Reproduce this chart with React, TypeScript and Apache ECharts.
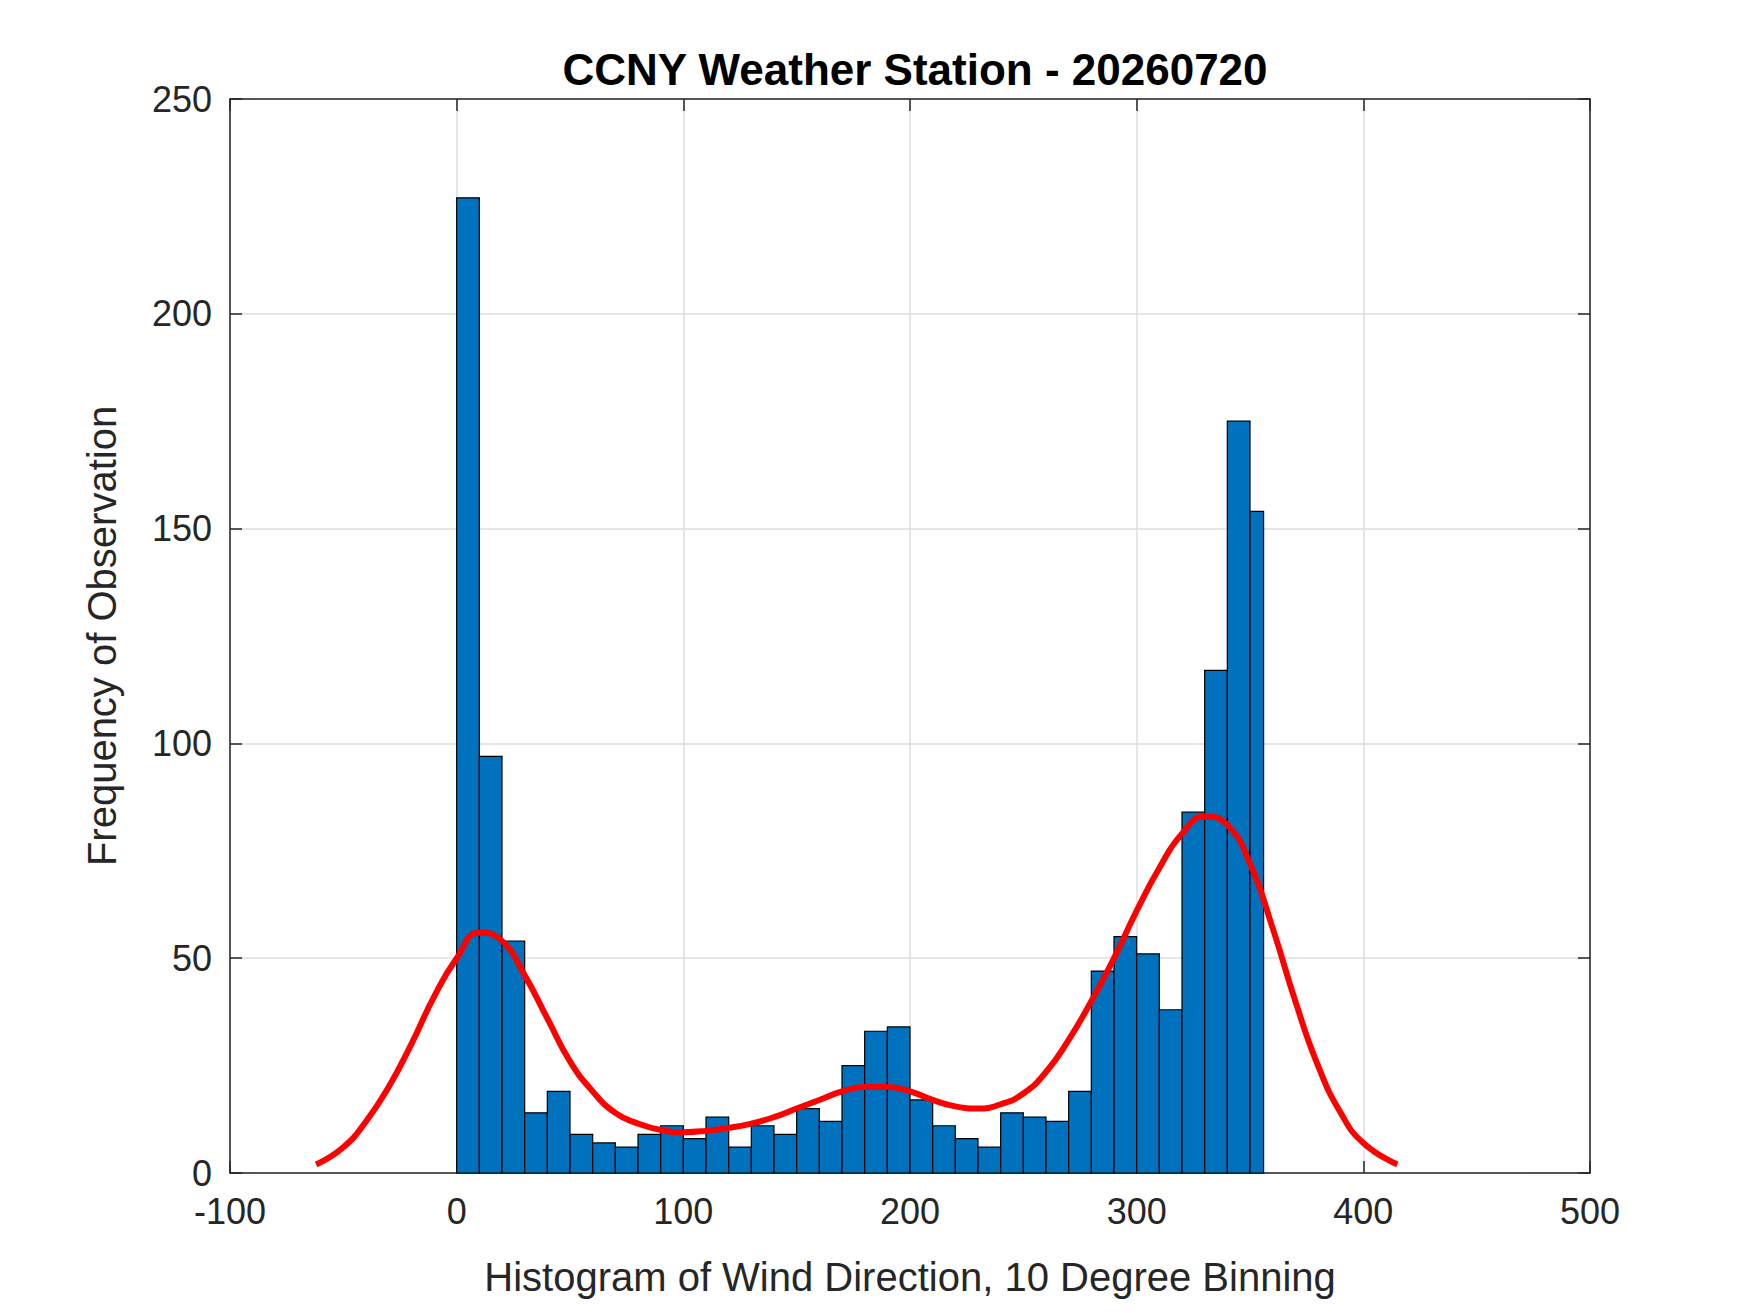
import React, { useEffect, useRef } from 'react';
import * as echarts from 'echarts';

const binStarts = [0, 10, 20, 30, 40, 50, 60, 70, 80, 90, 100, 110, 120, 130, 140, 150, 160, 170, 180, 190, 200, 210, 220, 230, 240, 250, 260, 270, 280, 290, 300, 310, 320, 330, 340, 350];
const binCounts = [227, 97, 54, 14, 19, 9, 7, 6, 9, 11, 8, 13, 6, 11, 9, 15, 12, 25, 33, 34, 17, 11, 8, 6, 14, 13, 12, 19, 47, 55, 51, 38, 84, 117, 175, 154];
const binWidth = 10;
const lastBinEnd = 356;

const curveX = [-62, -50, -40, -30, -20, -10, 0, 10, 20, 30, 40, 50, 60, 70, 80, 90, 100, 110, 120, 130, 140, 150, 160, 170, 180, 190, 200, 210, 220, 230, 240, 250, 260, 270, 280, 290, 300, 310, 320, 330, 340, 350, 360, 370, 380, 390, 400, 415];
const curveY = [2, 6, 12, 20, 30, 41, 50, 56, 54, 46, 36, 26, 19, 14, 11.5, 10, 9.5, 9.8, 10.5, 11.5, 13, 15, 17, 19, 20, 20, 19, 17, 15.5, 15, 16, 18.5, 23.5, 31, 40, 50, 61, 71, 79, 83, 81, 72, 57, 40, 25, 14, 7, 2];

export default function App() {
  const ref = useRef<HTMLDivElement>(null);
  useEffect(() => {
    document.body.style.margin = '0';
    const chart = echarts.init(ref.current!, null, { renderer: 'svg' });
    const font = 'Liberation Sans, Arial, sans-serif';
    const dark = '#262626';
    const tick = { show: true, inside: true, length: 12, lineStyle: { color: dark, width: 1.5 } };
    const line = { show: true, onZero: false, lineStyle: { color: dark, width: 1.5 } };
    const split = { show: true, lineStyle: { color: '#dedede', width: 1.5 } };
    chart.setOption({
      animation: false,
      backgroundColor: '#fff',
      title: {
        text: 'CCNY Weather Station - 20260720',
        left: 910, top: 42, textAlign: 'center',
        textStyle: { fontFamily: font, fontSize: 44, fontWeight: 'bold', color: '#000' },
      },
      grid: { left: 230, right: 160, top: 99, bottom: 140 },
      xAxis: [
        {
          type: 'value', min: -100, max: 500, interval: 100,
          name: 'Histogram of Wind Direction, 10 Degree Binning', nameLocation: 'middle', nameGap: 84,
          nameTextStyle: { fontFamily: font, fontSize: 40, color: dark },
          axisLine: line, axisTick: tick,
          axisLabel: { fontFamily: font, fontSize: 36, color: dark, margin: 20 },
          splitLine: split,
        },
        {
          type: 'value', position: 'top', min: -100, max: 500, interval: 100,
          axisLine: line, axisTick: tick, axisLabel: { show: false }, splitLine: { show: false },
        },
      ],
      yAxis: [
        {
          type: 'value', min: 0, max: 250, interval: 50,
          name: 'Frequency of Observation', nameLocation: 'middle', nameGap: 108,
          nameTextStyle: { fontFamily: font, fontSize: 40, color: dark },
          axisLine: line, axisTick: tick,
          axisLabel: { fontFamily: font, fontSize: 36, color: dark, margin: 18 },
          splitLine: split,
        },
        {
          type: 'value', position: 'right', min: 0, max: 250, interval: 50,
          axisLine: line, axisTick: tick, axisLabel: { show: false }, splitLine: { show: false },
        },
      ],
      series: [
        {
          type: 'custom',
          data: binStarts.map((s, i) => [s, binCounts[i]]),
          renderItem: (params: any, api: any) => {
            const s = api.value(0);
            const e = Math.min(s + binWidth, lastBinEnd);
            const p0 = api.coord([s, api.value(1)]);
            const p1 = api.coord([e, 0]);
            return {
              type: 'rect',
              shape: { x: p0[0], y: p0[1], width: p1[0] - p0[0], height: p1[1] - p0[1] },
              style: { fill: '#0072bd', stroke: '#000', lineWidth: 1.2 },
            };
          },
          z: 2,
        },
        {
          type: 'line',
          data: curveX.map((x, i) => [x, curveY[i]]),
          smooth: 0.5,
          showSymbol: false,
          lineStyle: { color: '#ff0000', width: 6 },
          z: 3,
        },
      ],
    });
    return () => chart.dispose();
  }, []);
  return <div ref={ref} style={{ width: 1750, height: 1313 }} />;
}
